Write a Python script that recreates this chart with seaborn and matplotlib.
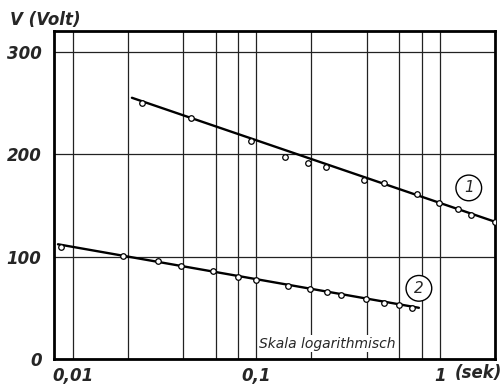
import matplotlib
matplotlib.use('Agg')
import matplotlib.pyplot as plt
import seaborn as sns

# Kurve 1 (Messpunkte)
t1 = [0.0238, 0.0441, 0.094, 0.144, 0.192, 0.241, 0.389, 0.494, 0.749, 0.99, 1.25, 1.48, 2.0]
v1 = [250, 235.5, 213, 197.5, 191.5, 187, 175, 172, 161.5, 152.5, 146, 141, 134]
# Kurve 1 (Ausgleichsgerade)
fit1_t = [0.021, 2.0]
fit1_v = [255, 134]

# Kurve 2 (Messpunkte)
t2 = [0.0086, 0.0188, 0.029, 0.039, 0.058, 0.08, 0.1, 0.148, 0.196, 0.244, 0.29, 0.394, 0.494, 0.597, 0.703]
v2 = [109, 101, 96, 91, 85.5, 80.5, 77.5, 71.5, 68, 65, 62, 58.5, 55, 53, 50]
# Kurve 2 (Ausgleichsgerade)
fit2_t = [0.0083, 0.77]
fit2_v = [112, 50]

x_major = [0.01, 0.1, 1]
x_major_labels = ['0,01', '0,1', '1']
x_minor = [0.02, 0.04, 0.06, 0.08, 0.2, 0.4, 0.6, 0.8]
y_ticks = [0, 100, 200, 300]

sns.set_style('white')
plt.rcParams['font.family'] = ['DejaVu Sans']

fig = plt.figure(figsize=(5.03, 3.85), dpi=100)
ax = fig.add_axes([0.1074, 0.0675, 0.8766, 0.8515])

# Linien
sns.lineplot(x=fit1_t, y=fit1_v, ax=ax, color='black', lw=1.7)
sns.lineplot(x=fit2_t, y=fit2_v, ax=ax, color='black', lw=1.7)
# Punkte
sns.scatterplot(x=t1, y=v1, ax=ax, s=16, color='white', edgecolor='black', linewidth=0.9, zorder=5)
sns.scatterplot(x=t2, y=v2, ax=ax, s=16, color='white', edgecolor='black', linewidth=0.9, zorder=5)

ax.set_xscale('log')
ax.set_xlim(0.0079, 2.0)
ax.set_ylim(0, 320)

ax.set_xticks(x_major)
ax.set_xticklabels(x_major_labels)
ax.set_xticks(x_minor, minor=True)
ax.set_xticklabels([], minor=True)
ax.set_yticks(y_ticks)
ax.tick_params(axis='both', which='both', length=0, labelsize=12)
ax.tick_params(axis='y', pad=9)
ax.tick_params(axis='x', pad=6)
for lab in ax.get_xticklabels() + ax.get_yticklabels():
    lab.set_fontstyle('italic')
    lab.set_fontweight('bold')

ax.grid(True, which='both', color='#222222', lw=0.9)
ax.set_axisbelow(True)
for sp in ax.spines.values():
    sp.set_color('black')
    sp.set_linewidth(2)

ax.set_xlabel('')
ax.set_ylabel('')

fig.text(0.09, 0.948, 'V (Volt)', fontsize=12, style='italic', weight='bold', ha='center', va='center')
fig.text(0.951, 0.03, '(sek)', fontsize=12, style='italic', weight='bold', ha='center', va='center')
ax.text(0.104, 15, 'Skala logarithmisch', fontsize=10, style='italic', ha='left', va='center',
        bbox=dict(facecolor='white', edgecolor='none', pad=1))

ax.text(1.44, 167, '1', fontsize=11, style='italic', ha='center', va='center',
        bbox=dict(boxstyle='circle,pad=0.35', facecolor='white', edgecolor='black', lw=1))
ax.text(0.77, 69, '2', fontsize=11, style='italic', ha='center', va='center',
        bbox=dict(boxstyle='circle,pad=0.35', facecolor='white', edgecolor='black', lw=1))

fig.savefig('out.png', dpi=100)
